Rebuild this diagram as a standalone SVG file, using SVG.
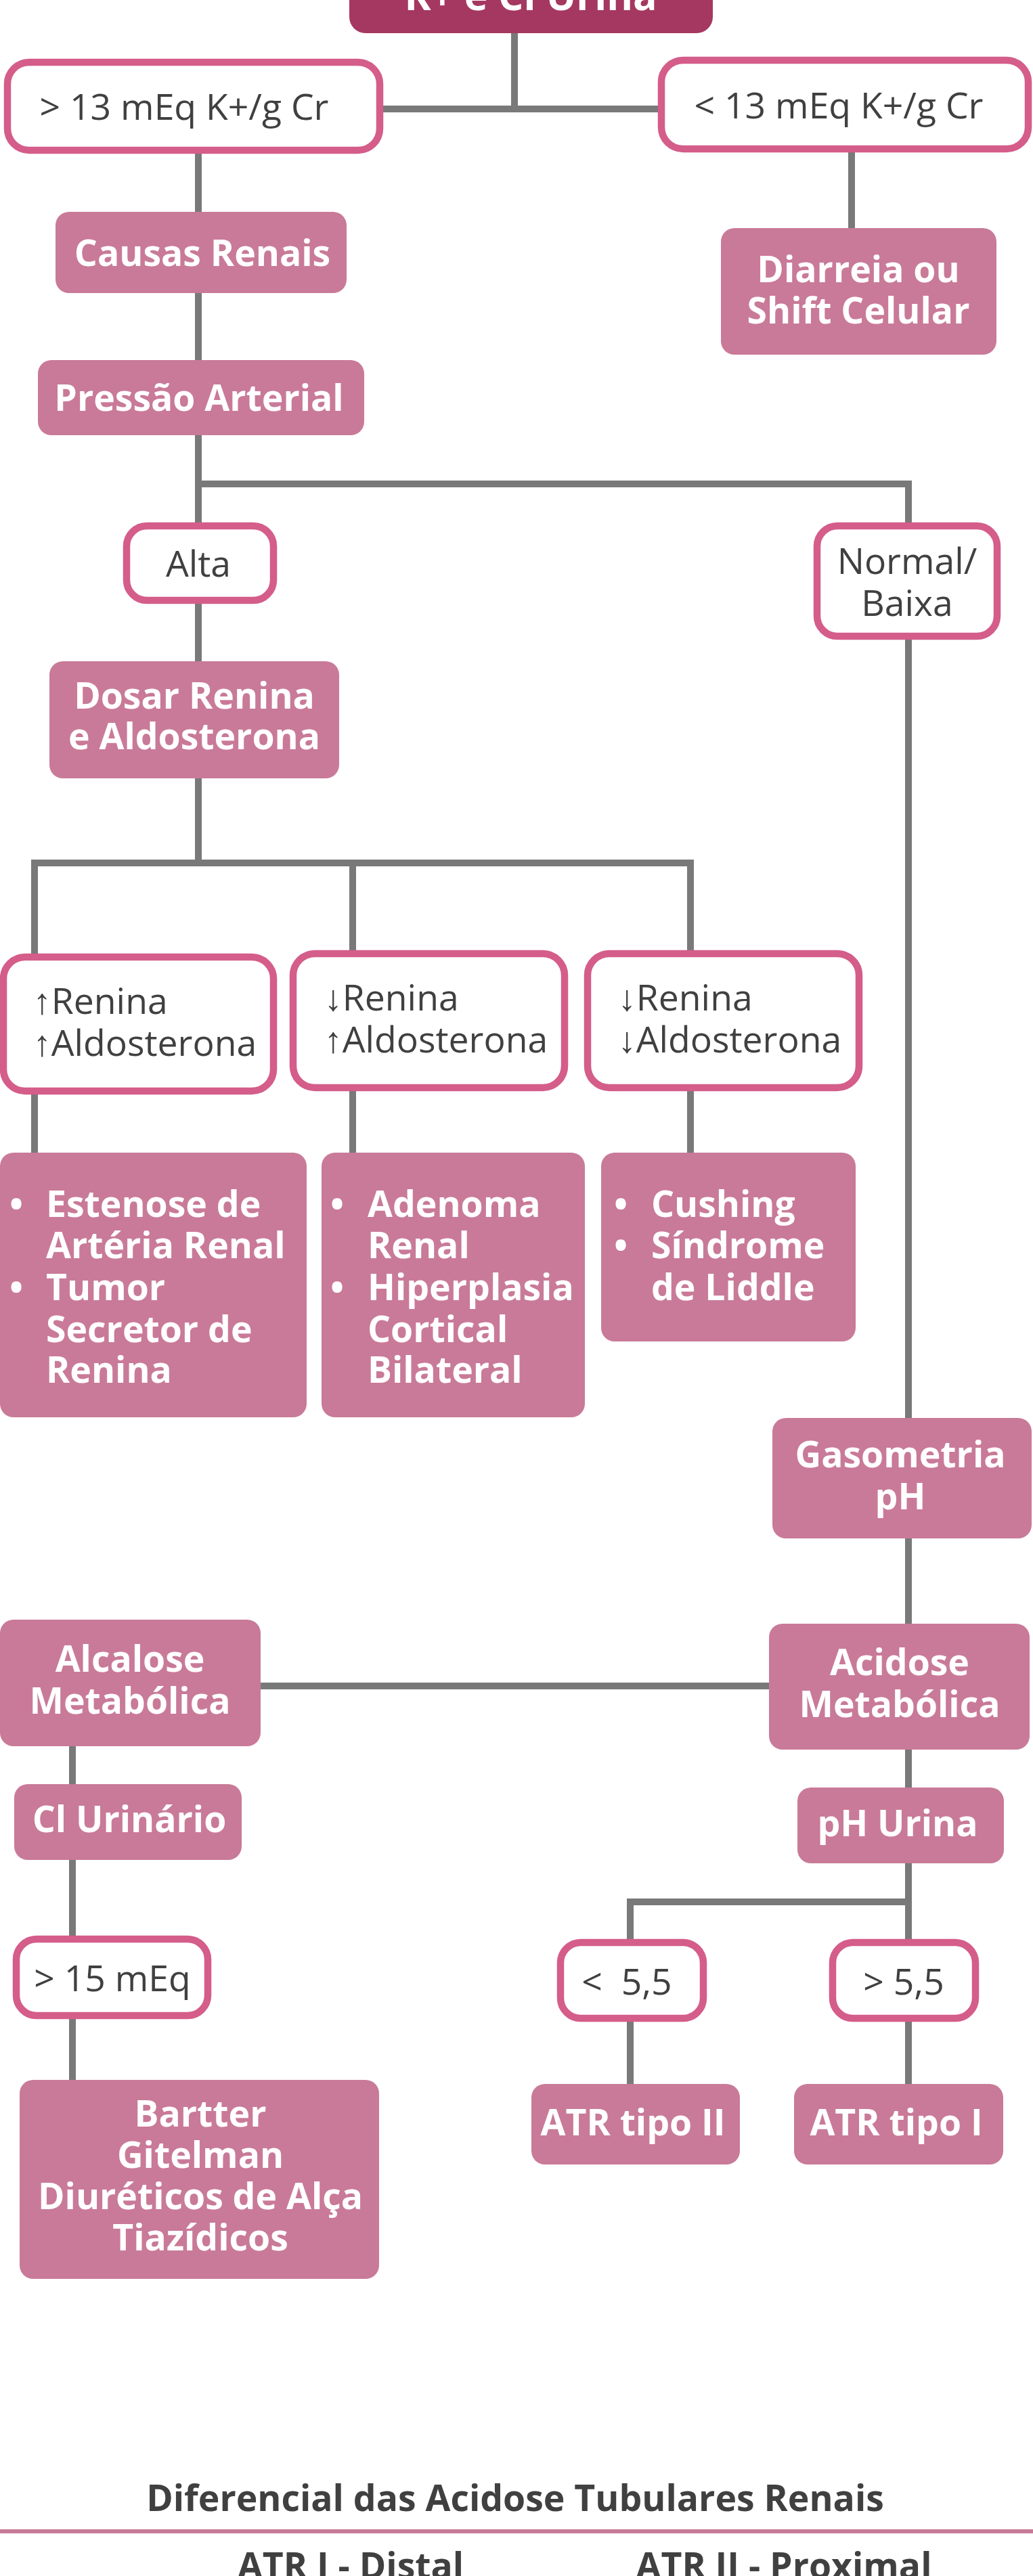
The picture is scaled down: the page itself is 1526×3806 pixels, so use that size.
<svg xmlns="http://www.w3.org/2000/svg" width="1526" height="3806" viewBox="0 0 1526 3806">
<style>
.bg{fill:#ffffff}
.con{stroke:#797979;stroke-width:10;fill:none;stroke-linecap:butt}
.fill{fill:#C97A98}
.top{fill:#A53860}
.out{fill:#ffffff;stroke:#D45D8A;stroke-width:10.5}
.tw{font-family:"Open Sans","Noto Sans","Liberation Sans",sans-serif;font-weight:700;font-size:53.5px;fill:#ffffff;text-anchor:middle}
.twl{font-family:"Open Sans","Noto Sans","Liberation Sans",sans-serif;font-weight:700;font-size:53.5px;fill:#ffffff}
.td{font-family:"Open Sans","Noto Sans","Liberation Sans",sans-serif;font-weight:400;font-size:53.5px;fill:#404040;text-anchor:middle}
.tdl{font-family:"Open Sans","Noto Sans","Liberation Sans",sans-serif;font-weight:400;font-size:53.5px;fill:#404040}
.th{font-family:"Open Sans","Noto Sans","Liberation Sans",sans-serif;font-weight:700;font-size:53.5px;fill:#404040;text-anchor:middle}
</style>
<rect class="bg" x="0" y="0" width="1526" height="3806"/>
<g id="connectors">
<path class="con" d="M760 49V161M561 161H977"/>
<path class="con" d="M293 222V313"/>
<path class="con" d="M1258 220V337"/>
<path class="con" d="M293 433V532"/>
<path class="con" d="M293 643V777M288 715H1347M1342 715V777"/>
<path class="con" d="M293 887V977"/>
<path class="con" d="M1342 945V2095"/>
<path class="con" d="M293 1150V1275M46 1275H1025M51 1275V1414M521 1275V1409M1020 1275V1409"/>
<path class="con" d="M51 1617V1703M521 1612V1703M1020 1612V1703"/>
<path class="con" d="M1342 2273V2399"/>
<path class="con" d="M385 2491H1136"/>
<path class="con" d="M107 2580V2636M107 2748V2860M107 2983V3073"/>
<path class="con" d="M1342 2585V2641M1342 2753V2870M926 2810H1347M931 2810V2870"/>
<path class="con" d="M931 2987V3079M1342 2987V3079"/>
</g>
<g id="n-top"><rect class="top" x="516" y="-100" width="537" height="149" rx="24"/><text class="tw" x="784" y="15" style="font-size:59px">K+ e Cl Urina</text></g>
<g id="n-gt13"><rect class="out" x="11" y="92" width="550" height="130" rx="32"/><text class="td" x="272" y="177">&gt; 13 mEq K+/g Cr</text></g>
<g id="n-lt13"><rect class="out" x="977" y="89" width="542" height="131" rx="32"/><text class="td" x="1239" y="175">&lt; 13 mEq K+/g Cr</text></g>
<g id="n-causas"><rect class="fill" x="82" y="313" width="430" height="120" rx="20"/><text class="tw" x="299" y="393">Causas Renais</text></g>
<g id="n-diarreia"><rect class="fill" x="1065" y="337" width="407" height="187" rx="20"/><text class="tw" x="1268" y="417">Diarreia ou</text><text class="tw" x="1268" y="478">Shift Celular</text></g>
<g id="n-pressao"><rect class="fill" x="56" y="532" width="482" height="111" rx="20"/><text class="tw" x="294" y="607">Pressão Arterial</text></g>
<g id="n-alta"><rect class="out" x="187" y="777" width="217" height="110" rx="30"/><text class="td" x="293" y="852">Alta</text></g>
<g id="n-normal"><rect class="out" x="1207" y="777" width="266" height="163" rx="30"/><text class="td" x="1340" y="848">Normal/</text><text class="td" x="1340" y="910">Baixa</text></g>
<g id="n-dosar"><rect class="fill" x="73" y="977" width="428" height="173" rx="20"/><text class="tw" x="287" y="1047">Dosar Renina</text><text class="tw" x="287" y="1107">e Aldosterona</text></g>
<g id="n-r1"><rect class="out" x="5" y="1414" width="399" height="198" rx="32"/><text class="tdl" x="49" y="1498">↑Renina</text><text class="tdl" x="49" y="1560">↑Aldosterona</text></g>
<g id="n-r2"><rect class="out" x="433" y="1409" width="401" height="198" rx="32"/><text class="tdl" x="479" y="1493">↓Renina</text><text class="tdl" x="479" y="1555">↑Aldosterona</text></g>
<g id="n-r3"><rect class="out" x="868" y="1409" width="401" height="198" rx="32"/><text class="tdl" x="913" y="1493">↓Renina</text><text class="tdl" x="913" y="1555">↓Aldosterona</text></g>
<g id="n-estenose"><rect class="fill" x="0" y="1703" width="453" height="391" rx="20"/>
<text class="twl" x="14" y="1798">•</text><text class="twl" x="68" y="1798">Estenose de</text>
<text class="twl" x="68" y="1859">Artéria Renal</text>
<text class="twl" x="14" y="1921">•</text><text class="twl" x="68" y="1921">Tumor</text>
<text class="twl" x="68" y="1983">Secretor de</text>
<text class="twl" x="68" y="2043">Renina</text></g>
<g id="n-adenoma"><rect class="fill" x="475" y="1703" width="389" height="391" rx="20"/>
<text class="twl" x="488" y="1798">•</text><text class="twl" x="543" y="1798">Adenoma</text>
<text class="twl" x="543" y="1859">Renal</text>
<text class="twl" x="488" y="1921">•</text><text class="twl" x="543" y="1921">Hiperplasia</text>
<text class="twl" x="543" y="1983">Cortical</text>
<text class="twl" x="543" y="2043">Bilateral</text></g>
<g id="n-cushing"><rect class="fill" x="888" y="1703" width="376" height="279" rx="20"/>
<text class="twl" x="907" y="1798">•</text><text class="twl" x="962" y="1798">Cushing</text>
<text class="twl" x="907" y="1859">•</text><text class="twl" x="962" y="1859">Síndrome</text>
<text class="twl" x="962" y="1921">de Liddle</text></g>
<g id="n-gaso"><rect class="fill" x="1141" y="2095" width="383" height="178" rx="20"/><text class="tw" x="1330" y="2168">Gasometria</text><text class="tw" x="1330" y="2230">pH</text></g>
<g id="n-alcalose"><rect class="fill" x="0" y="2393" width="385" height="187" rx="20"/><text class="tw" x="192" y="2470">Alcalose</text><text class="tw" x="192" y="2532">Metabólica</text></g>
<g id="n-acidose"><rect class="fill" x="1136" y="2399" width="385" height="186" rx="20"/><text class="tw" x="1329" y="2475">Acidose</text><text class="tw" x="1329" y="2537">Metabólica</text></g>
<g id="n-cl"><rect class="fill" x="21" y="2636" width="336" height="112" rx="20"/><text class="tw" x="191" y="2707">Cl Urinário</text></g>
<g id="n-phu"><rect class="fill" x="1178" y="2641" width="305" height="112" rx="20"/><text class="tw" x="1326" y="2713">pH Urina</text></g>
<g id="n-gt15"><rect class="out" x="24" y="2865" width="283" height="113" rx="30"/><text class="td" x="166" y="2942">&gt; 15 mEq</text></g>
<g id="n-lt55"><rect class="out" x="828" y="2870" width="211" height="112" rx="30"/><text class="td" x="926" y="2947" xml:space="preserve">&lt;  5,5</text></g>
<g id="n-gt55"><rect class="out" x="1230" y="2870" width="211" height="112" rx="30"/><text class="td" x="1335" y="2947">&gt; 5,5</text></g>
<g id="n-bartter"><rect class="fill" x="29" y="3073" width="531" height="294" rx="20"/><text class="tw" x="296" y="3142">Bartter</text><text class="tw" x="296" y="3203">Gitelman</text><text class="tw" x="296" y="3264">Diuréticos de Alça</text><text class="tw" x="296" y="3325">Tiazídicos</text></g>
<g id="n-atr2"><rect class="fill" x="785" y="3079" width="308" height="119" rx="20"/><text class="tw" x="935" y="3155">ATR tipo II</text></g>
<g id="n-atr1"><rect class="fill" x="1173" y="3079" width="309" height="119" rx="20"/><text class="tw" x="1324" y="3155">ATR tipo I</text></g>
<g id="table">
<text class="th" x="761" y="3710">Diferencial das Acidose Tubulares Renais</text>
<rect x="0" y="3737" width="1526" height="6" fill="#C97A98"/>
<text class="th" x="518" y="3810">ATR I - Distal</text>
<text class="th" x="1158" y="3810">ATR II - Proximal</text>
</g>
</svg>
